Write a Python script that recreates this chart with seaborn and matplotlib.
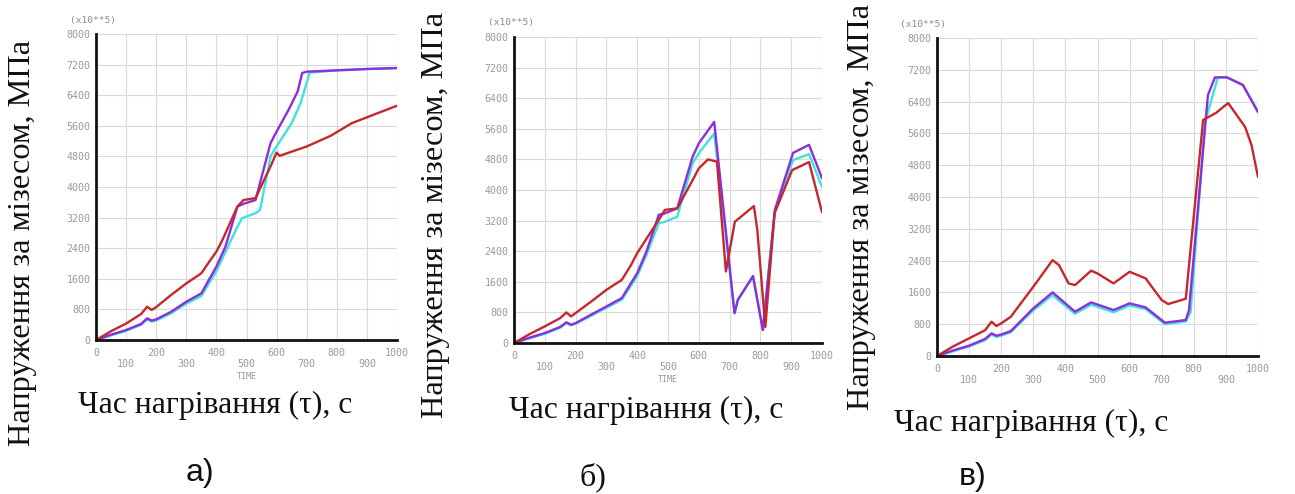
import numpy as np
import pandas as pd
import matplotlib
matplotlib.use("Agg")
import matplotlib.pyplot as plt
import seaborn as sns

# ---------------- data ----------------
# Panel a)
a_red_t = [0, 50, 100, 150, 170, 185, 200, 250, 300, 350, 380, 400, 420, 470, 490, 530, 580, 600, 610, 700, 780, 850, 1000]
a_red_v = [0, 230, 430, 680, 870, 785, 860, 1180, 1480, 1745, 2090, 2310, 2617, 3490, 3660, 3710, 4540, 4900, 4815, 5060, 5340, 5670, 6125]
a_pur_t = [0, 50, 100, 150, 170, 185, 200, 250, 300, 350, 400, 430, 470, 490, 530, 580, 600, 640, 670, 685, 700, 800, 900, 1000]
a_pur_v = [0, 140, 260, 420, 567, 506, 540, 740, 1000, 1220, 1920, 2440, 3490, 3560, 3660, 5150, 5450, 6020, 6500, 6980, 7015, 7050, 7085, 7110]
a_cyn_t = [0, 50, 100, 150, 170, 185, 200, 250, 300, 350, 400, 430, 470, 485, 530, 545, 580, 600, 650, 680, 710, 800, 900, 1000]
a_cyn_v = [0, 120, 240, 400, 540, 480, 510, 700, 950, 1150, 1800, 2300, 2966, 3185, 3315, 3400, 4800, 5060, 5670, 6200, 6990, 7050, 7085, 7110]

# Panel б)
b_red_t = [0, 50, 100, 150, 170, 185, 200, 250, 300, 350, 380, 400, 420, 470, 490, 530, 580, 600, 630, 659, 688, 717, 779, 790, 816, 846, 903, 958, 1000]
b_red_v = [0, 230, 435, 650, 800, 696, 783, 1080, 1390, 1650, 2040, 2350, 2600, 3220, 3480, 3520, 4260, 4565, 4800, 4740, 1870, 3170, 3580, 2950, 420, 3390, 4520, 4730, 3420]
b_pur_t = [0, 50, 100, 150, 170, 185, 200, 250, 300, 350, 400, 430, 470, 490, 530, 580, 600, 650, 716, 727, 776, 802, 808, 847, 906, 958, 1000]
b_pur_v = [0, 140, 260, 420, 540, 480, 520, 740, 955, 1175, 1825, 2390, 3350, 3390, 3520, 4870, 5220, 5780, 780, 1130, 1750, 600, 340, 3480, 4970, 5180, 4310]
b_cyn_t = [0, 50, 100, 150, 170, 185, 200, 250, 300, 350, 400, 430, 470, 490, 530, 580, 600, 650, 716, 727, 776, 802, 808, 847, 906, 958, 1000]
b_cyn_v = [0, 120, 240, 400, 520, 460, 500, 710, 920, 1130, 1750, 2300, 3130, 3170, 3300, 4700, 4960, 5480, 780, 1130, 1740, 600, 340, 3480, 4780, 4940, 4080]

# Panel в)
c_red_t = [0, 50, 100, 150, 170, 185, 200, 230, 300, 360, 380, 410, 430, 480, 500, 550, 600, 650, 700, 720, 775, 829, 870, 907, 960, 980, 1000]
c_red_v = [0, 240, 444, 650, 863, 754, 821, 988, 1742, 2412, 2287, 1826, 1784, 2145, 2077, 1826, 2119, 1952, 1407, 1307, 1440, 5937, 6120, 6365, 5760, 5300, 4503]
c_pur_t = [0, 50, 100, 150, 170, 185, 200, 230, 300, 360, 430, 480, 550, 600, 650, 710, 775, 785, 844, 866, 903, 953, 1000]
c_pur_v = [0, 140, 260, 430, 570, 511, 540, 628, 1198, 1600, 1114, 1349, 1156, 1324, 1223, 838, 905, 1150, 6566, 7010, 7010, 6818, 6138]
c_cyn_t = [0, 50, 100, 150, 170, 185, 200, 230, 300, 360, 430, 480, 550, 600, 650, 710, 775, 790, 835, 875, 903, 953, 1000]
c_cyn_v = [0, 120, 240, 400, 540, 480, 510, 600, 1150, 1530, 1060, 1290, 1100, 1270, 1180, 800, 870, 1100, 5887, 7010, 7010, 6818, 6138]

x_ticks = list(range(0, 1001, 100))
y_ticks = list(range(0, 8001, 800))

y_label = "Напруження за мізесом, МПа"
x_label = "Час нагрівання (τ), с"
panel_letters = ["а)", "б)", "в)"]
multiplier_text = "(x10**5)"

colors = {"cyan": "#3fe3d8", "purple": "#8a2ee0", "red": "#c4282c"}

# ---------------- figure ----------------
sns.set_style("white")
W, H = 1295, 494
fig = plt.figure(figsize=(W / 100, H / 100), dpi=100)


def box(l, r, t, b):
    return [l / W, 1 - b / H, (r - l) / W, (b - t) / H]


def fpos(x, y):
    return x / W, 1 - y / H


panels = [
    dict(rect=box(96, 397, 34, 340), data=[(a_cyn_t, a_cyn_v, "cyan"), (a_pur_t, a_pur_v, "purple"), (a_red_t, a_red_v, "red")],
         ylab=(23, 243), xlab=(215, 405), letter=(200, 473), letter_font="Liberation Sans", mult=(70, 21), time=True),
    dict(rect=box(514, 822, 37, 343), data=[(b_cyn_t, b_cyn_v, "cyan"), (b_pur_t, b_pur_v, "purple"), (b_red_t, b_red_v, "red")],
         ylab=(435, 215), xlab=(646, 410), letter=(593, 477), letter_font="Liberation Serif", mult=(488, 23), time=True),
    dict(rect=box(937, 1258, 38, 356), data=[(c_cyn_t, c_cyn_v, "cyan"), (c_pur_t, c_pur_v, "purple"), (c_red_t, c_red_v, "red")],
         ylab=(862, 207), xlab=(1031, 423), letter=(973, 477), letter_font="Liberation Sans", mult=(900, 24), time=False),
]

tick_font = dict(family="DejaVu Sans Mono", size=7.2, color="#9a9a9a")

for i, p in enumerate(panels):
    ax = fig.add_axes(p["rect"])
    frames = []
    for t, v, name in p["data"]:
        frames.append(pd.DataFrame({"t": t, "v": v, "series": name}))
    df = pd.concat(frames, ignore_index=True)
    sns.lineplot(data=df, x="t", y="v", hue="series", palette=colors, hue_order=["cyan", "purple", "red"],
                 estimator=None, sort=False, linewidth=1.7, legend=False, ax=ax)
    ax.set_xlim(0, 1000)
    ax.set_ylim(0, 8000)
    ax.set_xticks(x_ticks)
    ax.set_xticklabels([str(v) if v % 200 == 0 else "\n" + str(v) for v in x_ticks], linespacing=1.05, **tick_font)
    ax.set_yticks(y_ticks)
    ax.set_yticklabels([str(v) for v in y_ticks], **tick_font)
    ax.tick_params(axis="x", length=0, pad=6)
    ax.tick_params(axis="y", length=3, width=0.8, color="#777777", pad=1)
    ax.grid(True, color="#dadada", linewidth=0.8)
    ax.set_axisbelow(True)
    for s in ["top", "right"]:
        ax.spines[s].set_visible(False)
    for s in ["left", "bottom"]:
        ax.spines[s].set_color("#111111")
        ax.spines[s].set_linewidth(2)
    ax.set_xlabel("")
    ax.set_ylabel("")
    if p["time"]:
        ax.text(0.5, -0.105, "TIME", transform=ax.transAxes, ha="center", va="top",
                family="DejaVu Sans Mono", size=6, color="#9a9a9a")
    mx, my = fpos(*p["mult"])
    fig.text(mx, my, multiplier_text, ha="left", va="center", family="DejaVu Sans Mono", size=6.8, color="#8a8a8a")
    yx, yy = fpos(*p["ylab"])
    fig.text(yx, yy, y_label, rotation=90, ha="center", va="center", family="Liberation Serif", size=23.3, color="#111111")
    xx, xy = fpos(*p["xlab"])
    fig.text(xx, xy, x_label, ha="center", va="center", family="Liberation Serif", size=22.8, color="#111111")
    lx, ly = fpos(*p["letter"])
    fig.text(lx, ly, panel_letters[i], ha="center", va="center", family=p["letter_font"], size=23, color="#111111")

fig.savefig("out.png", dpi=100)
